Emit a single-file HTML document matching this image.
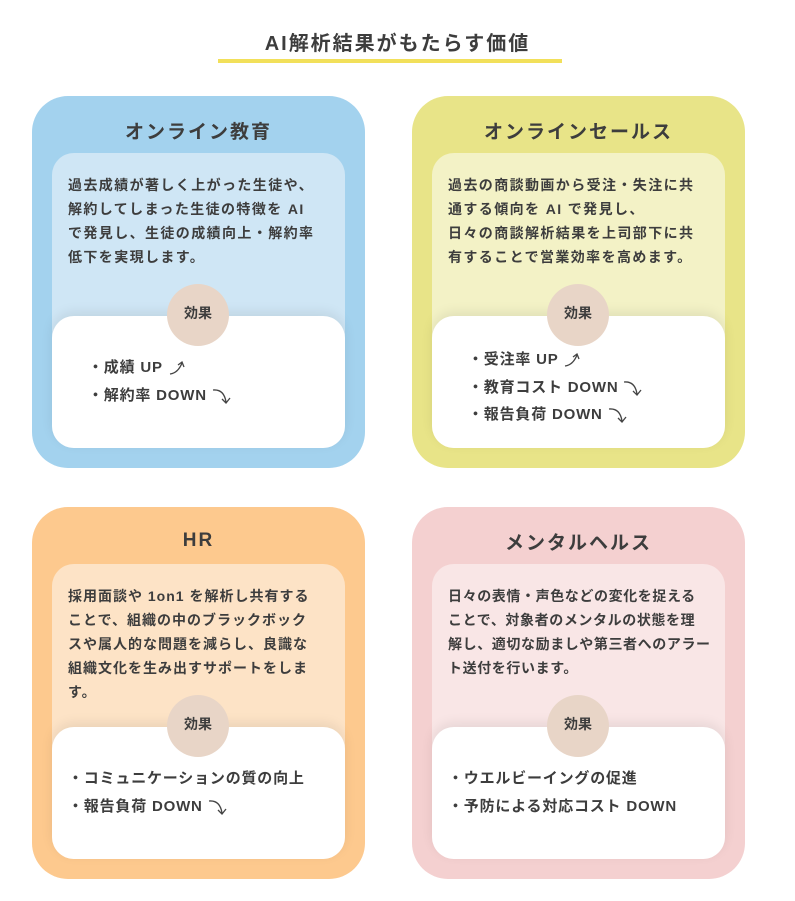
<!DOCTYPE html>
<html><head><meta charset="utf-8"><style>
body{margin:0;width:795px;height:901px;background:#fff;position:relative;font-family:"Liberation Sans","Noto Sans CJK JP",sans-serif;color:#3d3d3d;overflow:hidden}
.h{position:absolute;left:0;width:795px;top:27px;text-align:center;font-size:20px;font-weight:bold;letter-spacing:2px}
.ul{position:absolute;left:218px;top:59px;width:344px;height:4px;background:#f2e05a}
.card{position:absolute;width:333px;height:372px;border-radius:36px}
.t{position:absolute;left:0;right:0;top:21px;text-align:center;font-size:19px;font-weight:bold;letter-spacing:2px}
.in{position:absolute;left:20px;width:293px;top:57px;bottom:20px;border-radius:22px}
.p{position:absolute;left:16px;top:20px;font-size:14px;line-height:24px;letter-spacing:1.4px;font-weight:bold;white-space:nowrap}
.w{position:absolute;left:20px;width:293px;height:132px;bottom:20px;background:#fff;border-radius:22px;box-shadow:0 -4px 12px rgba(0,0,0,0.08)}
.c{position:absolute;width:62px;height:62px;border-radius:50%;background:#e8d5c7;left:135px;text-align:center;line-height:58px;font-size:14px;font-weight:bold}
.l{position:absolute;font-size:15px;line-height:27.5px;font-weight:bold;letter-spacing:0.8px;white-space:nowrap}
svg{vertical-align:middle}
</style></head><body>
<div class="h">AI解析結果がもたらす価値</div><div class="ul"></div>

<div class="card" style="left:32px;top:96px;background:#a3d2ee">
<div class="t">オンライン教育</div>
<div class="in" style="background:#cfe6f5"><div class="p">過去成績が著しく上がった生徒や、<br>解約してしまった生徒の特徴を AI<br>で発見し、生徒の成績向上・解約率<br>低下を実現します。</div></div>
<div class="w"><div class="l" style="left:36px;top:38px">・成績 UP <svg width="18" height="16"><path d="M2 14 Q10 13 14 3 M10 5 L14 2 L16 7" fill="none" stroke="#444" stroke-width="1.3"/></svg><br>・解約率 DOWN <svg width="20" height="18"><path d="M1 3 Q12 2 14 15 M10 12 L14 16 L18 11" fill="none" stroke="#444" stroke-width="1.3"/></svg></div></div>
<div class="c" style="top:188px">効果</div>
</div>

<div class="card" style="left:412px;top:96px;background:#e8e488">
<div class="t">オンラインセールス</div>
<div class="in" style="background:#f3f2c6"><div class="p">過去の商談動画から受注・失注に共<br>通する傾向を AI で発見し、<br>日々の商談解析結果を上司部下に共<br>有することで営業効率を高めます。</div></div>
<div class="w"><div class="l" style="left:36px;top:30px">・受注率 UP <svg width="18" height="16"><path d="M2 14 Q10 13 14 3 M10 5 L14 2 L16 7" fill="none" stroke="#444" stroke-width="1.3"/></svg><br>・教育コスト DOWN <svg width="20" height="18"><path d="M1 3 Q12 2 14 15 M10 12 L14 16 L18 11" fill="none" stroke="#444" stroke-width="1.3"/></svg><br>・報告負荷 DOWN <svg width="20" height="18"><path d="M1 3 Q12 2 14 15 M10 12 L14 16 L18 11" fill="none" stroke="#444" stroke-width="1.3"/></svg></div></div>
<div class="c" style="top:188px">効果</div>
</div>

<div class="card" style="left:32px;top:507px;background:#fdc98e">
<div class="t" style="top:23px">HR</div>
<div class="in" style="background:#fde3c6"><div class="p" style="letter-spacing:1px">採用面談や 1on1 を解析し共有する<br>ことで、組織の中のブラックボック<br>スや属人的な問題を減らし、良識な<br>組織文化を生み出すサポートをしま<br>す。</div></div>
<div class="w"><div class="l" style="left:16px;top:38px">・コミュニケーションの質の向上<br>・報告負荷 DOWN <svg width="20" height="18"><path d="M1 3 Q12 2 14 15 M10 12 L14 16 L18 11" fill="none" stroke="#444" stroke-width="1.3"/></svg></div></div>
<div class="c" style="top:188px">効果</div>
</div>

<div class="card" style="left:412px;top:507px;background:#f4d0d0">
<div class="t">メンタルヘルス</div>
<div class="in" style="background:#f9e6e6"><div class="p" style="letter-spacing:0.6px">日々の表情・声色などの変化を捉える<br>ことで、対象者のメンタルの状態を理<br>解し、適切な励ましや第三者へのアラー<br>ト送付を行います。</div></div>
<div class="w"><div class="l" style="left:16px;top:38px">・ウエルビーイングの促進<br>・予防による対応コスト DOWN</div></div>
<div class="c" style="top:188px">効果</div>
</div>
</body></html>
